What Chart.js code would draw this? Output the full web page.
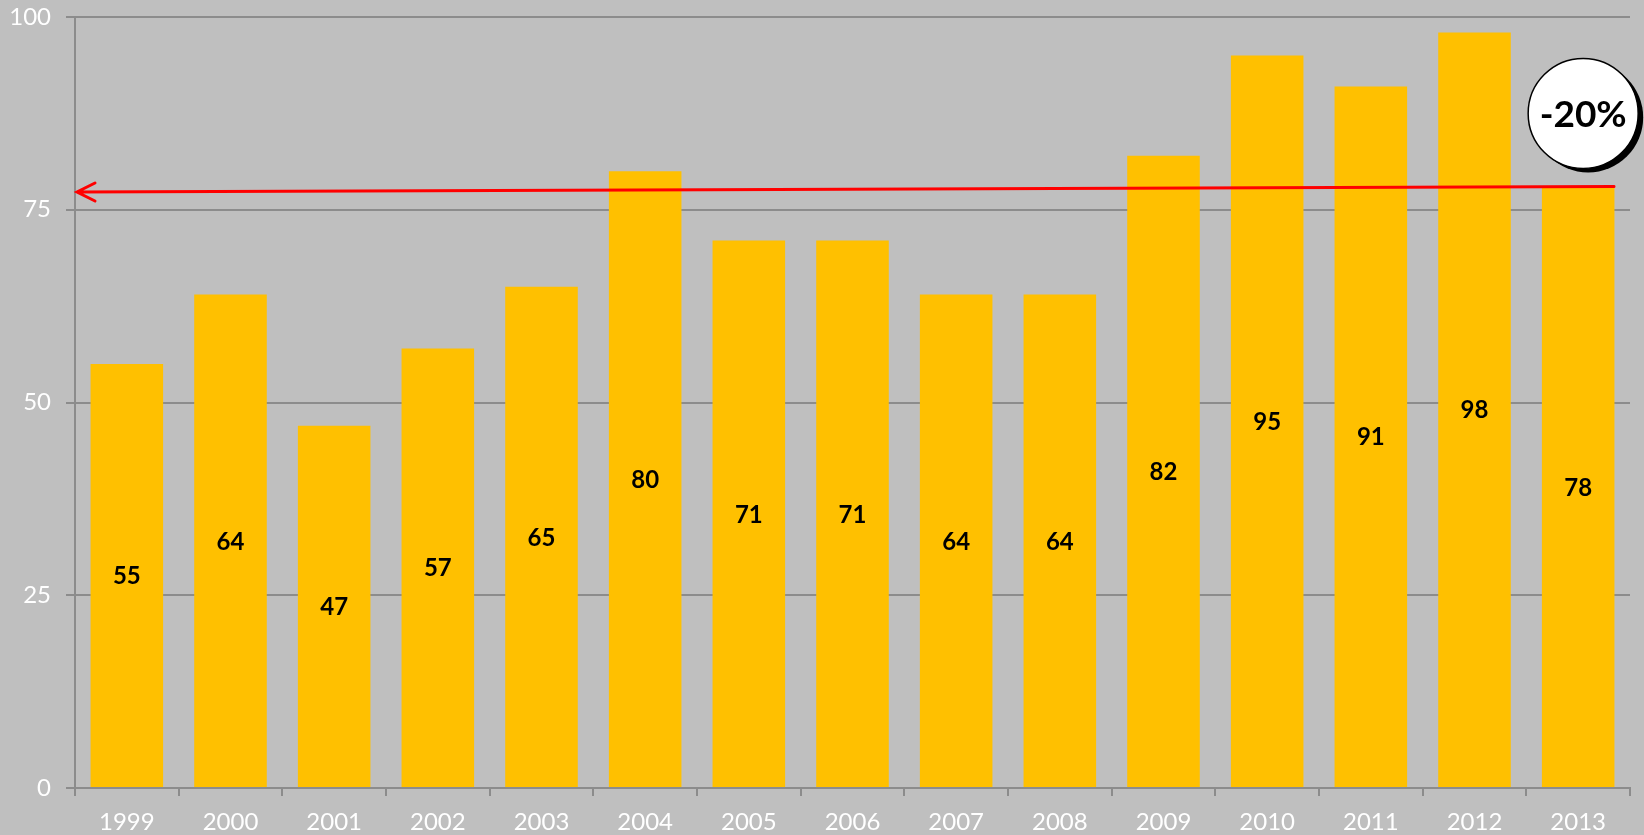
<!DOCTYPE html>
<html>
<head>
<meta charset="utf-8">
<script src="https://cdn.jsdelivr.net/npm/chart.js@4"></script>
<style>
  html, body { margin: 0; padding: 0; background: #bfbfbf; }
  #wrap { width: 1644px; height: 835px; }
</style>
</head>
<body>
<div id="wrap"><canvas id="chart"></canvas></div>
<script>
const years = ["1999", "2000", "2001", "2002", "2003", "2004", "2005", "2006", "2007", "2008", "2009", "2010", "2011", "2012", "2013"];
const values = [55, 64, 47, 57, 65, 80, 71, 71, 64, 64, 82, 95, 91, 98, 78];
const yTicks = [0, 25, 50, 75, 100];

// arrow: from the 2013 level back to the left axis
const arrowFrom = 78;
const arrowTo = 77.3;
const badgeText = "-20%";
const badgeLevel = 87.5;

const FONT = "Lato, 'Open Sans', sans-serif";

// red arrow + the -20% badge
const annotations = {
  id: "annotations",
  afterDatasetsDraw(chart) {
    const { ctx, chartArea, scales } = chart;
    const x0 = chartArea.right - 16;
    const y0 = scales.y.getPixelForValue(arrowFrom);
    const x1 = chartArea.left + 2;
    const y1 = scales.y.getPixelForValue(arrowTo);

    ctx.save();
    ctx.strokeStyle = "#ff0000";
    ctx.lineWidth = 3;
    ctx.lineCap = "round";
    ctx.beginPath();
    ctx.moveTo(x0, y0);
    ctx.lineTo(x1, y1);
    ctx.moveTo(x1 + 18, y1 - 9);
    ctx.lineTo(x1, y1);
    ctx.lineTo(x1 + 18, y1 + 9);
    ctx.stroke();

    // badge
    const cx = scales.x.getPixelForValue(years.length - 1) + 5;
    const cy = scales.y.getPixelForValue(badgeLevel);
    const r = 55;
    ctx.fillStyle = "#000";
    ctx.beginPath();
    ctx.arc(cx + 5, cy + 4, r, 0, Math.PI * 2);
    ctx.fill();
    ctx.fillStyle = "#fff";
    ctx.strokeStyle = "#000";
    ctx.lineWidth = 1.5;
    ctx.beginPath();
    ctx.arc(cx, cy, r, 0, Math.PI * 2);
    ctx.fill();
    ctx.stroke();
    ctx.fillStyle = "#000";
    ctx.font = "bold 37px " + FONT;
    ctx.textAlign = "center";
    ctx.textBaseline = "middle";
    ctx.fillText(badgeText, cx, cy + 2);
    ctx.restore();
  }
};

// values in the middle of each bar
const barLabels = {
  id: "barLabels",
  afterDatasetsDraw(chart) {
    const { ctx } = chart;
    const meta = chart.getDatasetMeta(0);
    ctx.save();
    ctx.fillStyle = "#000";
    ctx.font = "bold 24px " + FONT;
    ctx.textAlign = "center";
    ctx.textBaseline = "middle";
    meta.data.forEach((bar, i) => {
      ctx.fillText(values[i], bar.x, (bar.y + bar.base) / 2 + 1);
    });
    ctx.restore();
  }
};

new Chart(document.getElementById("chart"), {
  type: "bar",
  data: {
    labels: years,
    datasets: [{
      data: values,
      backgroundColor: "#ffc000",
      borderWidth: 0,
      barPercentage: 0.7,
      categoryPercentage: 1
    }]
  },
  plugins: [barLabels, annotations],
  options: {
    responsive: true,
    maintainAspectRatio: false,
    animation: false,
    layout: { padding: { top: 17, right: 14, left: 0, bottom: 0 } },
    plugins: {
      legend: { display: false },
      tooltip: { enabled: false }
    },
    scales: {
      x: {
        grid: {
          offset: true,
          drawOnChartArea: false,
          color: "#8c8c8c",
          lineWidth: 2,
          tickLength: 8
        },
        border: { color: "#8c8c8c", width: 2 },
        ticks: {
          color: "#ffffff",
          font: { family: FONT, size: 24 },
          padding: 12,
          maxRotation: 0
        },
        afterFit(scale) {
          scale.height = 47;
          scale.paddingLeft = 0;
          scale.paddingRight = 0;
        }
      },
      y: {
        min: 0,
        max: 100,
        afterBuildTicks(scale) { scale.ticks = yTicks.map(v => ({ value: v })); },
        grid: {
          color: "#8c8c8c",
          lineWidth: 2,
          tickLength: 9
        },
        border: { color: "#8c8c8c", width: 2 },
        ticks: {
          color: "#ffffff",
          font: { family: FONT, size: 24 },
          padding: 15
        },
        afterFit(scale) {
          scale.width = 75;
          scale.paddingTop = 0;
          scale.paddingBottom = 0;
        }
      }
    }
  }
});
</script>
</body>
</html>
